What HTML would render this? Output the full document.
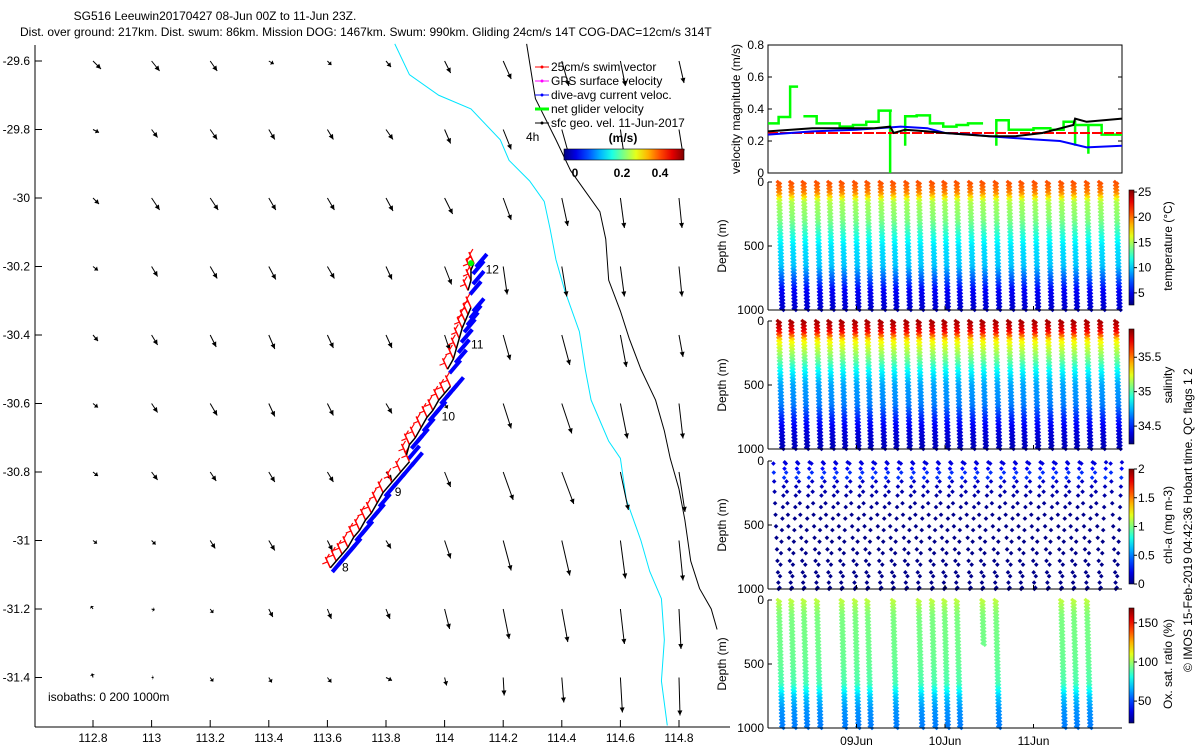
<!DOCTYPE html>
<html><head><meta charset="utf-8"><title>SG516 glider plot</title>
<style>
html,body{margin:0;padding:0;background:#fff;}
svg{display:block;font-family:"Liberation Sans",sans-serif;font-size:12px;}
</style></head>
<body>
<svg id="fig" width="1200" height="750" viewBox="0 0 1200 750" xmlns="http://www.w3.org/2000/svg">
<rect x="0" y="0" width="1200" height="750" fill="#fff"/>
<text x="215" y="20" text-anchor="middle">SG516 Leeuwin20170427 08-Jun 00Z to 11-Jun 23Z.</text>
<text x="20" y="36">Dist. over ground: 217km. Dist. swum: 86km. Mission DOG: 1467km. Swum: 990km. Gliding 24cm/s 14T COG-DAC=12cm/s 314T</text>
<g id="map"></g>
<g id="vel"></g>
<g id="temp"></g>
<g id="sal"></g>
<g id="chl"></g>
<g id="oxy"></g>
<text transform="translate(1192,672) rotate(-90)" font-size="12">© IMOS 15-Feb-2019 04:42:36 Hobart time. QC flags 1  2</text>
</svg>
<script>
// ---------- map data ----------
const gridLon = [112.8,113,113.2,113.4,113.6,113.8,114,114.2,114.4,114.6,114.8];
const gridLat = [-29.6,-29.8,-30,-30.2,-30.4,-30.6,-30.8,-31,-31.2,-31.4];
const uGrid = [
[.08,.08,.07,.05,.04,.05,.06,.08,.07,.05,.05],
[.06,.06,.07,.06,.06,.07,.06,.08,.07,.04,.04],
[.06,.08,.08,.07,.07,.07,.08,.08,.06,.04,.03],
[.05,.06,.07,.07,.07,.06,.07,.04,.05,.04,.03],
[.05,.06,.06,.06,.06,.06,.05,.07,.08,.06,.04],
[.05,.06,.07,.06,.06,.06,.03,.08,.10,.07,.04],
[.05,.06,.06,.06,.06,.06,.06,.10,.12,.08,.06],
[.04,.04,.05,.06,.05,.05,.06,.08,.08,.05,.04],
[-.02,.03,.03,.04,.04,.04,.05,.06,.06,.04,.02],
[-.01,.02,.03,.03,.04,.06,.02,.01,.02,.02,.01]];
const vGrid = [
[-.08,-.10,-.10,-.03,-.04,-.06,-.12,-.18,-.25,-.25,-.22],
[-.03,-.08,-.10,-.10,-.10,-.10,-.14,-.20,-.25,-.28,-.25],
[-.06,-.12,-.12,-.12,-.12,-.13,-.16,-.22,-.28,-.30,-.30],
[-.04,-.10,-.12,-.13,-.12,-.13,-.18,-.28,-.30,-.30,-.30],
[-.06,-.10,-.12,-.14,-.13,-.13,-.15,-.25,-.30,-.32,-.22],
[-.04,-.09,-.12,-.13,-.12,-.10,-.05,-.25,-.30,-.35,-.35],
[-.04,-.08,-.09,-.10,-.10,-.08,-.15,-.28,-.32,-.38,-.40],
[-.03,-.04,-.08,-.10,-.10,-.08,-.18,-.30,-.35,-.38,-.40],
[.03,-.01,-.04,-.08,-.10,-.10,-.20,-.30,-.33,-.35,-.40],
[.04,0,-.04,-.05,-.05,-.03,-.08,-.18,-.25,-.35,-.38]];
const iso200Lon = [113.83,113.88,113.98,114.09,114.19,114.22,114.29,114.34,114.36,114.38,114.41,114.46,114.48,114.50,114.53,114.56,114.60,114.62,114.67,114.70,114.74,114.75,114.74,114.76];
const iso200Lat = [-29.55,-29.64,-29.70,-29.74,-29.83,-29.89,-29.95,-30.01,-30.09,-30.18,-30.27,-30.39,-30.50,-30.59,-30.65,-30.71,-30.76,-30.88,-31.00,-31.09,-31.17,-31.29,-31.41,-31.54];
const iso1000Lon = [114.28,114.31,114.38,114.43,114.48,114.53,114.55,114.56,114.60,114.63,114.67,114.72,114.75,114.77,114.80,114.82,114.84,114.87,114.91,114.93];
const iso1000Lat = [-29.55,-29.71,-29.83,-29.92,-29.98,-30.04,-30.12,-30.24,-30.33,-30.41,-30.50,-30.59,-30.68,-30.76,-30.85,-30.94,-31.06,-31.14,-31.20,-31.26];
const trackLon = [113.61,113.63,113.65,113.67,113.69,113.71,113.73,113.75,113.77,113.79,113.82,113.85,113.88, 113.87,113.88,113.90,113.92,113.94,113.96,113.98,114.00,114.02, 114.01,114.03,114.04,114.05,114.06,114.07,114.08,114.09, 114.08,114.09,114.09,114.10];
const trackLat = [-31.08,-31.06,-31.04,-31.02,-30.99,-30.97,-30.94,-30.92,-30.89,-30.86,-30.83,-30.80,-30.77, -30.75,-30.72,-30.70,-30.67,-30.64,-30.62,-30.59,-30.57,-30.55, -30.50,-30.47,-30.44,-30.41,-30.38,-30.36,-30.34,-30.32, -30.27,-30.24,-30.21,-30.19];
const trackSeg = [0,0,0,0,0,0,0,0,0,0,0,0,0, 1,1,1,1,1,1,1,1,1, 2,2,2,2,2,2,2,2, 3,3,3,3];
const diveLabels = ["8","9","10","11","12"];
const diveLabLon = [113.65,113.83,113.99,114.09,114.14];
const diveLabLat = [-31.09,-30.87,-30.65,-30.44,-30.22];
const mapXTicks = [112.8,113,113.2,113.4,113.6,113.8,114,114.2,114.4,114.6,114.8];
const mapYTicks = [-29.6,-29.8,-30,-30.2,-30.4,-30.6,-30.8,-31,-31.2,-31.4];

// ---------- velocity panel data ----------
const velTicks = [0,0.2,0.4,0.6,0.8];
const swimT = [0,4]; const swimV = [0.25,0.25];
const dacT = [0,0.5,1.0,1.5,1.8,2.0,2.3,2.5,3.0,3.3,3.6,4.0];
const dacV = [0.24,0.26,0.27,0.29,0.28,0.25,0.24,0.23,0.21,0.20,0.16,0.17];
const sfcT = [0,0.5,1.2,1.38,1.42,1.55,1.8,2.0,2.5,2.8,3.1,3.45,3.47,3.6,4.0];
const sfcV = [0.26,0.28,0.28,0.29,0.25,0.27,0.26,0.25,0.23,0.23,0.25,0.30,0.34,0.32,0.34];
const netT = [0,0.12,0.12,0.25,0.25,0.34,null,0.40,0.40,0.55,0.55,0.81,0.81,0.96,0.96,1.11,1.11,1.25,1.25,1.38,1.38,1.38,1.40,null,1.55,1.55,1.55,1.68,1.68,1.83,1.83,1.98,1.98,2.13,2.13,2.26,2.26,2.43,null,2.58,2.58,2.58,2.72,2.72,3.00,3.00,3.19,3.19,3.34,3.34,3.47,3.47,3.47,3.62,3.62,3.62,3.77,3.77,4.0];
const netV = [0.31,0.31,0.35,0.35,0.54,0.54,null,0.355,0.355,0.355,0.31,0.31,0.29,0.29,0.30,0.30,0.32,0.32,0.39,0.39,0,0.39,0.39,null,0.17,0.355,0.355,0.355,0.36,0.36,0.31,0.31,0.29,0.29,0.30,0.30,0.31,0.31,null,0.17,0.33,0.33,0.33,0.27,0.27,0.28,0.28,0.27,0.27,0.32,0.32,0.17,0.30,0.30,0.12,0.30,0.30,0.24,0.24];

// ---------- section data ----------
const diveDays = [0.11,0.25,0.39,0.54,0.68,0.82,0.97,1.11,1.26,1.40,1.55,1.69,1.84,1.98,2.12,2.27,2.41,2.56,2.71,2.85,3.00,3.15,3.30,3.44,3.59,3.74,3.92];
const profDepth = [0,80,120,150,300,400,500,650,750,850,1000];
const tempProf = [20.8,19.7,17.4,15.1,14.0,12.2,10.6,9.9,7.6,5.3,4.2];
const salProf = [35.85,35.72,35.5,35.3,35.05,34.85,34.72,34.66,34.52,34.4,34.32];
const chlProf = [0.15,0.3,0.45,0.15,0.05,0.03,0.02,0.02,0.02,0.02,0.02];
const oxyProf = [105,98,96,95,94,93,92,88,70,62,58];
const oxyDives = [0,1,2,3,5,6,7,9,11,12,13,14,16,17,22,23,24];
const oxyMaxDepth = [1000,1000,1000,1000,1000,1000,1000,1000,1000,1000,1000,1000,350,1000,1000,1000,1000];
const chlDepthsDown = [20,90,160,240,330,420,510,600,690,780,870,950,1000];
const chlDepthsUp = [990,900,810,720,630,540,450,360,270,200,130,60,10];
const dateTicks = [1,2,3]; const dateLabels = ["09Jun","10Jun","11Jun"];
const depthTicks = [0,500,1000];
const tempCbTicks = [5,10,15,20,25];
const salCbTicks = [34.5,35,35.5];
const chlCbTicks = [0,0.5,1,1.5,2];
const oxyCbTicks = [50,100,150];

const NS="http://www.w3.org/2000/svg";
function mk(parent,tag,attrs,name,inter){
  const e=document.createElementNS(NS,tag);
  for(const k in attrs) e.setAttribute(k,attrs[k]);
  if(name){   }
  parent.appendChild(e); return e;
}
function txt(parent,x,y,s,anchor,name,extra){
  const e=mk(parent,'text',Object.assign({x:x,y:y,'text-anchor':anchor||'start'},extra||{}),null);
  
  
  e.textContent=s; return e;
}
function jet(t){
  t=Math.max(0,Math.min(1,t));
  const r=Math.max(0,Math.min(1,1.5-Math.abs(4*t-3)));
  const g=Math.max(0,Math.min(1,1.5-Math.abs(4*t-2)));
  const b=Math.max(0,Math.min(1,1.5-Math.abs(4*t-1)));
  return `rgb(${Math.round(r*255)},${Math.round(g*255)},${Math.round(b*255)})`;
}
function interp(xs,ys,x){
  if(x<=xs[0])return ys[0];
  for(let i=1;i<xs.length;i++) if(x<=xs[i]) return ys[i-1]+(ys[i]-ys[i-1])*(x-xs[i-1])/(xs[i]-xs[i-1]);
  return ys[ys.length-1];
}

// ---------- map ----------
const map=document.getElementById('map');
const mx=lon=>93+(lon-112.8)/0.2*58.6;
const my=lat=>61+(-29.6-lat)/0.2*68.5;
const SC=100;
function arrow(g,x1,y1,dx,dy,col,w,name){
  const l=Math.hypot(dx,dy); if(l<0.5){mk(g,'circle',{cx:x1,cy:y1,r:1.2,fill:col},name);return;}
  mk(g,'line',{x1:x1,y1:y1,x2:x1+dx,y2:y1+dy,stroke:col,'stroke-width':w},name);
  const ux=dx/l,uy=dy/l,h=Math.min(5,l*0.5);
  const px=-uy,py=ux;
  mk(g,'polygon',{points:`${x1+dx},${y1+dy} ${x1+dx-ux*h+px*2.5},${y1+dy-uy*h+py*2.5} ${x1+dx-ux*h-px*2.5},${y1+dy-uy*h-py*2.5}`,fill:col},name+'-head');
}
const isoG=mk(map,'g',{},'isobaths',false);
mk(isoG,'polyline',{points:iso200Lon.map((v,i)=>mx(v)+','+my(iso200Lat[i])).join(' '),fill:'none',stroke:'#00e5ff','stroke-width':1},'isobath-200m',false);
mk(isoG,'polyline',{points:iso1000Lon.map((v,i)=>mx(v)+','+my(iso1000Lat[i])).join(' '),fill:'none',stroke:'#000','stroke-width':1},'isobath-1000m',false);
const arrG=mk(map,'g',{},'surface-geostrophic-vectors',false);
gridLat.forEach((la,r)=>gridLon.forEach((lo,c)=>{
  arrow(arrG,mx(lo),my(la),uGrid[r][c]*SC,-vGrid[r][c]*SC,'#000',1,'geo-vector');
}));
const trG=mk(map,'g',{},'glider-track',false);
trackLon.forEach((lo,i)=>{
  const x=mx(lo),y=my(trackLat[i]);
  mk(trG,'line',{x1:x+2,y1:y+4,x2:x+13,y2:y-9,stroke:'#0000ff','stroke-width':4},'dive-avg-current-vector',false);
});
trackLon.forEach((lo,i)=>{
  const x=mx(lo),y=my(trackLat[i]);
  mk(trG,'line',{x1:x,y1:y,x2:x-5,y2:y-11,stroke:'#ff0000','stroke-width':1.5},'swim-vector',false);
  mk(trG,'line',{x1:x-3,y1:y-6,x2:x-8,y2:y-4,stroke:'#ff0000','stroke-width':1.2},'swim-vector',false);
  mk(trG,'line',{x1:x-4,y1:y-9,x2:x-1,y2:y-14,stroke:'#ff0000','stroke-width':1.2},'swim-vector',false);
});
[0,1,2,3].forEach(s=>{
  const pts=trackLon.map((lo,i)=>trackSeg[i]===s?mx(lo)+','+my(trackLat[i]):null).filter(p=>p);
  mk(trG,'polyline',{points:pts.join(' '),fill:'none',stroke:'#000','stroke-width':1.5},'track-line',false);
});
mk(trG,'circle',{cx:mx(114.09),cy:my(-30.19),r:3,fill:'#00ff00'},'net-velocity-marker',false);
diveLabels.forEach((s,i)=>txt(map,mx(diveLabLon[i]),my(diveLabLat[i]),s,'start','dive-label'));
// axes
mk(map,'line',{x1:35,y1:45,x2:35,y2:727,stroke:'#000'},'map-y-axis',false);
mk(map,'line',{x1:35,y1:727,x2:730,y2:727,stroke:'#000'},'map-x-axis',false);
mapXTicks.forEach(v=>{const x=mx(v);mk(map,'line',{x1:x,y1:727,x2:x,y2:720,stroke:'#000'},'map-x-tick',false);txt(map,x,742,String(v),'middle','map-x-tick-label');});
mapYTicks.forEach(v=>{const y=my(v);mk(map,'line',{x1:35,y1:y,x2:42,y2:y,stroke:'#000'},'map-y-tick',false);txt(map,30,y+4,String(v),'end','map-y-tick-label');});
txt(map,48,701,'isobaths: 0   200  1000m','start','isobath-note',{'xml:space':'preserve'});
// legend
const leg=mk(map,'g',{},'map-legend',false);
const legCols=['#ff0000','#ff00ff','#0000ff','#00ff00','#000'];
const legText=['25cm/s swim vector','GPS surface velocity','dive-avg current veloc.','net glider velocity','sfc geo. vel. 11-Jun-2017'];
legText.forEach((s,i)=>{const y=67+i*14;
  mk(leg,'line',{x1:535,y1:y,x2:549,y2:y,stroke:legCols[i],'stroke-width':i===3?3:1},'legend-line',false);
  mk(leg,'circle',{cx:542,cy:y,r:1.5,fill:legCols[i]},'legend-marker',false);
  txt(leg,551,y+4,s,'start','legend-entry');});
txt(map,526,141,'4h','start','legend-4h-label');
txt(map,623,142,'(m/s)','middle','map-colorbar-title',{'font-weight':'bold'});
const defs=mk(document.getElementById('fig'),'defs',{},null);
const gr=mk(defs,'linearGradient',{id:'jetH',x1:0,y1:0,x2:1,y2:0},null);
const gv=mk(defs,'linearGradient',{id:'jetV',x1:0,y1:1,x2:0,y2:0},null);
for(let i=0;i<=10;i++){mk(gr,'stop',{offset:i/10,'stop-color':jet(i/10)},null);mk(gv,'stop',{offset:i/10,'stop-color':jet(i/10)},null);}
mk(map,'rect',{x:564,y:149,width:120,height:11,fill:'url(#jetH)',stroke:'#000','stroke-width':0.6},'map-colorbar',false);
[[0,575],[0.2,622],[0.4,660]].forEach(p=>txt(map,p[1],177,String(p[0]),'middle','map-colorbar-tick',{'font-weight':'bold'}));

// ---------- velocity panel ----------
const vel=document.getElementById('vel');
const VX0=768,VX1=1122,DAY=88.5;
const tx=d=>VX0+d*DAY;
const vy=v=>173-v/0.8*128;
mk(vel,'rect',{x:VX0,y:45,width:VX1-VX0,height:128,fill:'none',stroke:'#000'},'velocity-axes-box',false);
velTicks.forEach(v=>{mk(vel,'line',{x1:VX0,y1:vy(v),x2:VX0+4,y2:vy(v),stroke:'#000'},'vel-tick',false);mk(vel,'line',{x1:VX1,y1:vy(v),x2:VX1-4,y2:vy(v),stroke:'#000'},'vel-tick',false);txt(vel,764,vy(v)+4,String(v),'end','vel-tick-label');});
txt(vel,0,0,'velocity magnitude (m/s)','middle','vel-y-axis-title',{transform:'translate(740,109) rotate(-90)'});
function poly(g,T,V,col,w,name,dash){
  let seg=[];const segs=[];
  T.forEach((t,i)=>{if(t===null||V[i]===null){if(seg.length)segs.push(seg);seg=[];}else seg.push(tx(t)+','+vy(V[i]));});
  if(seg.length)segs.push(seg);
  segs.forEach(s=>mk(g,'polyline',Object.assign({points:s.join(' '),fill:'none',stroke:col,'stroke-width':w},dash?{'stroke-dasharray':dash}:{}),name,false));
}
poly(vel,netT,netV,'#00ff00',2.5,'net-glider-velocity-line');
poly(vel,swimT,swimV,'#ff0000',2,'swim-speed-line','10 2');
poly(vel,dacT,dacV,'#0000ff',2,'dive-avg-current-line');
poly(vel,sfcT,sfcV,'#000',2,'surface-velocity-line');

// ---------- sections ----------
function section(id,top,prof,vmin,vmax,cbTicks,label,cbTitle,dives,maxD,sparse){
  const g=document.getElementById(id);
  const dy=d=>top+d/1000*128;
  const cg=mk(g,'g',{},id+'-points',false);
  const dm=(x,y,c,n)=>mk(cg,'path',{d:`M${x-2.3},${y}L${x},${y-2.3}L${x+2.3},${y}L${x},${y+2.3}Z`,fill:c},n,false);
  (dives||diveDays.map((_,i)=>i)).forEach((di,k)=>{
    const t0=diveDays[di]; const md=maxD?maxD[k]:1000;
    if(sparse){
      chlDepthsDown.forEach(d=>{const v=interp(profDepth,prof,d);dm(tx(t0+d/1000*0.06-0.05),dy(d),jet((v-vmin)/(vmax-vmin)),'chl-sample');});
      chlDepthsUp.forEach(d=>{const v=interp(profDepth,prof,d);dm(tx(t0+0.02+(1-d/1000)*0.06),dy(d),jet((v-vmin)/(vmax-vmin)),'chl-sample');});
      return;
    }
    [0,1].forEach(leg=>{
      for(let d=leg*12;d<=md;d+=26){
        const v=interp(profDepth,prof,d);
        dm(tx(t0+d/1000*0.04+leg*0.025),dy(d),jet((v-vmin)/(vmax-vmin)),id+'-sample');
      }
    });
  });
  mk(g,'line',{x1:VX0,y1:top,x2:VX0,y2:top+128,stroke:'#000'},id+'-y-axis',false);
  mk(g,'line',{x1:VX0,y1:top+128,x2:VX1,y2:top+128,stroke:'#000'},id+'-x-axis',false);
  depthTicks.forEach(d=>{mk(g,'line',{x1:VX0,y1:dy(d),x2:VX0+4,y2:dy(d),stroke:'#000'},'depth-tick',false);txt(g,764,dy(d)+4,String(d),'end','depth-tick-label');});
  dateTicks.forEach(d=>mk(g,'line',{x1:tx(d),y1:top+128,x2:tx(d),y2:top+124,stroke:'#000'},'date-tick',false));
  txt(g,0,0,label,'middle','depth-axis-title',{transform:`translate(726,${top+64}) rotate(-90)`});
  const cbTop=top+8,cbBot=top+123;
  mk(g,'rect',{x:1129,y:cbTop,width:5,height:cbBot-cbTop,fill:'url(#jetV)',stroke:'#000','stroke-width':0.6},id+'-colorbar',false);
  cbTicks.forEach(v=>{const y=cbBot-(v-vmin)/(vmax-vmin)*(cbBot-cbTop);mk(g,'line',{x1:1134,y1:y,x2:1137,y2:y,stroke:'#000'},'colorbar-tick',false);txt(g,1138,y+4,String(v),'start','colorbar-tick-label');});
  txt(g,0,0,cbTitle,'middle','colorbar-title',{transform:`translate(1172,${top+64}) rotate(-90)`});
}
section('temp',182,tempProf,2.6,25.4,tempCbTicks,'Depth (m)','temperature (°C)');
section('sal',321,salProf,34.24,35.91,salCbTicks,'Depth (m)','salinity');
section('chl',461,chlProf,0,2,chlCbTicks,'Depth (m)','chl-a (mg m-3)',null,null,true);
section('oxy',600,oxyProf,22,169,oxyCbTicks,'Depth (m)','Ox. sat. ratio (%)',oxyDives,oxyMaxDepth);
const oxyG=document.getElementById('oxy');
dateLabels.forEach((s,i)=>txt(oxyG,tx(dateTicks[i]),745,s,'middle','date-tick-label'));
</script>
</body></html>
